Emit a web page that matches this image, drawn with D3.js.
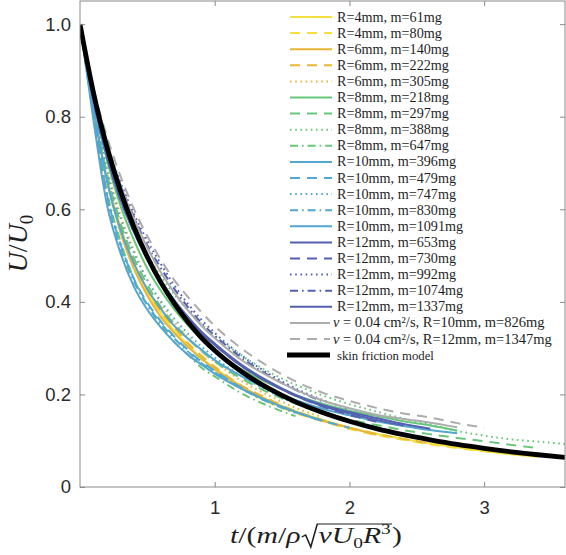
<!DOCTYPE html>
<html><head><meta charset="utf-8">
<script src="https://cdn.jsdelivr.net/npm/d3@7"></script>
<style>body{margin:0;background:#fff}svg{display:block}</style>
</head><body><svg id="c" width="566" height="555"></svg>
<script>
// ---------- data ----------
const tGrid = [0,0.1,0.2,0.3,0.4,0.5,0.6,0.7,0.8,0.9,1.0,1.2,1.4,1.6,1.8,2.0,2.2,2.4,2.6,2.8,3.0,3.2,3.4,3.6];
const xTicks = [1,2,3];
const yTicks = [0,0.2,0.4,0.6,0.8,1.0];
const yTickLabels = ["0","0.2","0.4","0.6","0.8","1.0"];

const seriesLabels = [
  "R=4mm, m=61mg","R=4mm, m=80mg","R=6mm, m=140mg","R=6mm, m=222mg","R=6mm, m=305mg",
  "R=8mm, m=218mg","R=8mm, m=297mg","R=8mm, m=388mg","R=8mm, m=647mg",
  "R=10mm, m=396mg","R=10mm, m=479mg","R=10mm, m=747mg","R=10mm, m=830mg","R=10mm, m=1091mg",
  "R=12mm, m=653mg","R=12mm, m=730mg","R=12mm, m=992mg","R=12mm, m=1074mg","R=12mm, m=1337mg",
  "R=10mm, m=826mg","R=12mm, m=1347mg"
];
const seriesGroup = ["y","y","o","o","o","g","g","g","g","lb","lb","lb","lb","lb","db","db","db","db","db","gr","gr"];
const seriesDash  = ["s","d","s","d",":","s","d",":","-.","s","d",":","-.","s","s","d",":","-.","s","s","d"];

const v_R4_m61   = [1,0.818,0.669,0.563,0.483,0.422,0.376,0.337,0.307,0.278,0.257,0.217,0.187,0.164,0.145,0.128,0.115,0.104,0.094,0.086,0.078,0.071,0.066];
const v_R4_m80   = [1,0.826,0.662,0.557,0.478,0.417,0.371,0.333,0.303,0.275,0.254,0.214,0.183,0.160,0.142,0.125,0.112,0.102,0.092,0.084,0.077,0.071,0.0655];
const v_R6_m140  = [1,0.818,0.662,0.550,0.472,0.413,0.367,0.333,0.303,0.278,0.254,0.217,0.187,0.162,0.143,0.128,0.113];
const v_R6_m222  = [1,0.826,0.676,0.570,0.489,0.427,0.380,0.345,0.311,0.284,0.260,0.219,0.190,0.164,0.145,0.128,0.115,0.104,0.094];
const v_R6_m305  = [1,0.835,0.691,0.589,0.511,0.447,0.398,0.356,0.325,0.294,0.271,0.229,0.198,0.171,0.151];
const v_R8_m218  = [1,0.835,0.706,0.608,0.534,0.472,0.424,0.384,0.350,0.320,0.295,0.254,0.224,0.199,0.180,0.165,0.154,0.142,0.133,0.122];
const v_R8_m297  = [1,0.826,0.676,0.570,0.495,0.437,0.389,0.352,0.321,0.294,0.271,0.234,0.204,0.180,0.161,0.146,0.134,0.123,0.114,0.106,0.099,0.091,0.084];
const v_R8_m388  = [1,0.843,0.720,0.634,0.562,0.502,0.455,0.416,0.382,0.352,0.327,0.284,0.249,0.221,0.198,0.179,0.163,0.148,0.135,0.121,0.111,0.103,0.098,0.093];
const v_R8_m647  = [1,0.809,0.639,0.531,0.450,0.393,0.349,0.313,0.286,0.258,0.239,0.202,0.175,0.153];
const v_R10_m396 = [1,0.792,0.610,0.506,0.433,0.383,0.345,0.313,0.286,0.265,0.245,0.212,0.185,0.162,0.143];
const v_R10_m479 = [1,0.809,0.632,0.525,0.450,0.398,0.358,0.325,0.296,0.271,0.251,0.214,0.185,0.162,0.143,0.128];
const v_R10_m747 = [1,0.826,0.684,0.582,0.506,0.447,0.402,0.364,0.332,0.304,0.280,0.239,0.207,0.180,0.159,0.142,0.129];
const v_R10_m830 = [1,0.801,0.625,0.518,0.444,0.393,0.354,0.321,0.293,0.268,0.248,0.212,0.183,0.160];
const v_R10_m1091= [1,0.818,0.662,0.557,0.483,0.427,0.385,0.348,0.321,0.297,0.274,0.239,0.211,0.188,0.169,0.155,0.142,0.132,0.123,0.116];
const v_R12_m653 = [1,0.843,0.720,0.627,0.556,0.497,0.446,0.404,0.368,0.336,0.310,0.264,0.228,0.199,0.177,0.162,0.149,0.136,0.126];
const v_R12_m730 = [1,0.835,0.713,0.621,0.551,0.492,0.442,0.400,0.364,0.333,0.307,0.261,0.226,0.197,0.174,0.156,0.141];
const v_R12_m992 = [1,0.852,0.742,0.659,0.590,0.532,0.482,0.436,0.396,0.362,0.333,0.284,0.245,0.213,0.188,0.168];
const v_R12_m1074= [1,0.843,0.735,0.653,0.584,0.522,0.473,0.428,0.389,0.355,0.327,0.279,0.241,0.210,0.185];
const v_R12_m1337= [1,0.835,0.713,0.621,0.551,0.492,0.442,0.400,0.364,0.333,0.307,0.261,0.226,0.197,0.175,0.159,0.145,0.133];
const v_nu_R10_m826  = [1,0.852,0.742,0.653,0.579,0.517,0.464,0.420,0.382,0.349,0.322,0.274,0.239,0.210,0.187,0.170,0.156,0.147,0.139,0.129];
const v_nu_R12_m1347 = [1,0.861,0.757,0.672,0.601,0.542,0.491,0.447,0.411,0.378,0.348,0.299,0.260,0.228,0.204,0.186,0.171,0.159,0.150,0.138,0.128];
const v_model = [1,0.852,0.735,0.640,0.562,0.497,0.442,0.396,0.357,0.323,0.295,0.249,0.213,0.184,0.161,0.142,0.126,0.113,0.102,0.092,0.0835,0.076,0.0697,0.064];

const seriesValues = [v_R4_m61,v_R4_m80,v_R6_m140,v_R6_m222,v_R6_m305,v_R8_m218,v_R8_m297,v_R8_m388,v_R8_m647,
  v_R10_m396,v_R10_m479,v_R10_m747,v_R10_m830,v_R10_m1091,v_R12_m653,v_R12_m730,v_R12_m992,v_R12_m1074,v_R12_m1337,
  v_nu_R10_m826,v_nu_R12_m1347];

// ---------- styles ----------
const groupColor = {y:"#f3df3f", o:"#e8b537", g:"#66c77a", lb:"#52a6d0", db:"#5461b0", gr:"#acacac"};
const dashArr = {"s":null, "d":"10,7", ":":"1.6,3.6", "-.":"8,4,1.6,4"};

const svg = d3.select("#c");
const L = 80, R = 565, T = 1, B = 487;
const x = d3.scaleLinear().domain([0,3.6]).range([L,R]);
const y = d3.scaleLinear().domain([0,1.05]).range([B,T]);

svg.append("defs").append("clipPath").attr("id","clip")
  .append("rect").attr("x",L).attr("y",T).attr("width",R-L).attr("height",B-T);

const line = d3.line().x(d=>x(d[0])).y(d=>y(d[1])).curve(d3.curveMonotoneX);
const plot = svg.append("g").attr("clip-path","url(#clip)");

seriesValues.forEach((vals,i)=>{
  const pts = vals.map((v,j)=>[tGrid[j],v]);
  plot.append("path").attr("d",line(pts)).attr("fill","none")
    .attr("stroke",groupColor[seriesGroup[i]]).attr("stroke-width",2)
    .attr("stroke-dasharray",dashArr[seriesDash[i]]);
});
plot.append("path").attr("d",line(v_model.map((v,j)=>[tGrid[j],v]))).attr("fill","none")
  .attr("stroke","#000").attr("stroke-width",4.8);

// ---------- axes ----------
const axCol = "#8a8a8a";
const gL = svg.append("g").attr("transform",`translate(${L},0)`)
  .call(d3.axisLeft(y).tickValues(yTicks).tickFormat((d,i)=>yTickLabels[i]).tickSize(-5).tickPadding(9));
const gB = svg.append("g").attr("transform",`translate(0,${B})`)
  .call(d3.axisBottom(x).tickValues(xTicks).tickFormat(d3.format("d")).tickSize(-5).tickPadding(14));
const gR = svg.append("g").attr("transform",`translate(${R},0)`)
  .call(d3.axisRight(y).tickValues(yTicks).tickFormat("").tickSize(-5));
const gT = svg.append("g").attr("transform",`translate(0,${T})`)
  .call(d3.axisTop(x).tickValues(xTicks).tickFormat("").tickSize(-5));
[gL,gB,gR,gT].forEach(g=>{
  g.select(".domain").remove();
  g.selectAll("line").attr("stroke",axCol);
  g.selectAll("text").attr("fill","#2a2a2a").style("font-family","'Liberation Sans', Arial, sans-serif").style("font-size","18.5px");
});
svg.append("rect").attr("x",L).attr("y",T).attr("width",R-L).attr("height",B-T)
  .attr("fill","none").attr("stroke",axCol).attr("stroke-width",1);

// ---------- legend ----------
const lg = svg.append("g");
const serif = "'Liberation Serif', 'Times New Roman', serif";
const rowY = i => 17 + i*16.1;
function fitWidth(sel, target){
  const w = sel.node().getComputedTextLength();
  const fs = parseFloat(sel.style("font-size"));
  sel.style("font-size", (fs*target/w)+"px");
}
seriesLabels.forEach((lab,i)=>{
  const yy = rowY(i);
  const isNu = seriesGroup[i]==="gr";
  lg.append("line").attr("x1",290).attr("x2",isNu?330:332).attr("y1",yy).attr("y2",yy)
    .attr("stroke",groupColor[seriesGroup[i]]).attr("stroke-width",2)
    .attr("stroke-dasharray",dashArr[seriesDash[i]]);
  const t = lg.append("text").attr("x",isNu?333:337).attr("y",yy+4.5)
    .style("font-family",serif).style("font-size","14px").attr("fill","#1e1e1e");
  if(isNu){
    t.append("tspan").style("font-style","italic").text("ν");
    t.append("tspan").text(" = 0.04 cm²/s, "+lab);
    if(i===20) fitWidth(t, 219);
  } else t.text(lab);
  t.classed(isNu?"nu":"rr", true);
});
const rr0 = lg.select("text.rr");
fitWidth(rr0, 105);
const rrFs = rr0.style("font-size");
lg.selectAll("text.rr").style("font-size", rrFs);
const nuFs = lg.selectAll("text.nu").filter((d,i)=>i===1).style("font-size");
lg.selectAll("text.nu").style("font-size", nuFs);

const ly = rowY(21);
lg.append("line").attr("x1",287).attr("x2",330).attr("y1",ly).attr("y2",ly).attr("stroke","#000").attr("stroke-width",5);
const sf = lg.append("text").attr("x",337).attr("y",ly+4.5).style("font-family",serif).style("font-size","14px").attr("fill","#1e1e1e").text("skin friction model");
fitWidth(sf, 97);

// ---------- axis labels ----------
// y label, centred on its measured box
const yl = svg.append("text").attr("text-anchor","start")
  .style("font-family",serif).style("font-size","28px").attr("fill","#1e1e1e");
yl.append("tspan").style("font-style","italic").text("U");
yl.append("tspan").text("/");
yl.append("tspan").style("font-style","italic").text("U");
yl.append("tspan").attr("dy",6).style("font-size","19px").text("0");
const ylLen = yl.node().getComputedTextLength();
yl.attr("transform",`translate(27,${243.5+ylLen/2}) rotate(-90)`);

// x label built piecewise, then scaled to the reference extent
const xg = svg.append("g");
const xi = xg.append("g");
let cx = 0;
function piece(txt, italic, size, dy){
  const t = xi.append("text").attr("x",cx).attr("y",dy||0)
    .style("font-family",serif).style("font-size",(size||23)+"px").style("font-style",italic?"italic":"normal")
    .attr("fill","#1e1e1e").text(txt);
  const w = t.node().getComputedTextLength();
  cx += w; return w;
}
piece("t",true); piece("/(",false); piece("m",true); piece("/",false); piece("ρ",true);
const rx = cx; cx += 14;
piece("ν",true); piece("U",true); piece("0",false,15,5); piece("R",true); piece("3",false,15,-9);
const oe = cx + 1;
cx += 1;
piece(")",false);
xi.append("path").attr("d",`M${rx+1},-6 L${rx+4},-8 L${rx+8},4 L${rx+13},-19 L${oe},-19`)
  .attr("fill","none").attr("stroke","#1e1e1e").attr("stroke-width",1.2);
const sx = 172/cx;
xi.attr("transform",`scale(${sx},1)`);
xg.attr("transform",`translate(${316-86},543)`);
</script></body></html>
